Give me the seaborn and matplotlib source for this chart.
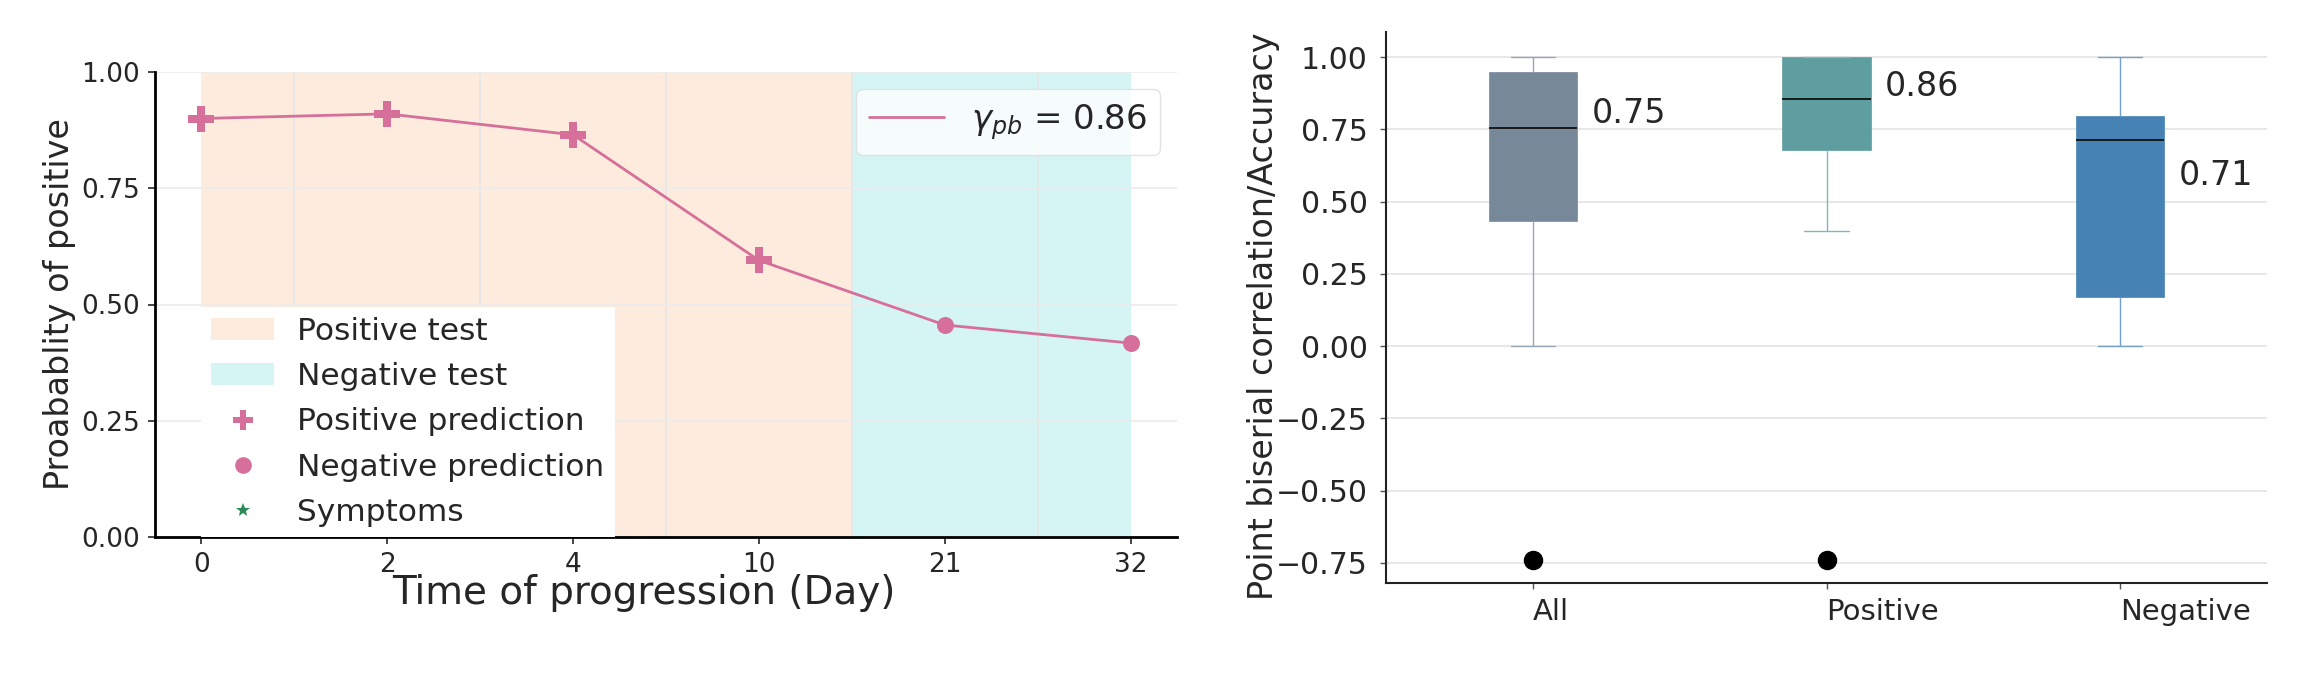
import numpy as np
import pandas as pd
import matplotlib
matplotlib.use("Agg")
import matplotlib.pyplot as plt
import matplotlib.colors as mcolors
from matplotlib.patches import Patch
from matplotlib.lines import Line2D
import seaborn as sns

# ---------------- data ----------------
days = ["0", "2", "4", "10", "21", "32"]
prob_positive = [0.90, 0.91, 0.865, 0.595, 0.456, 0.417]
prediction = ["Positive", "Positive", "Positive", "Positive", "Negative", "Negative"]
test_result = ["Positive", "Positive", "Positive", "Positive", "Negative", "Negative"]
r_pb_label = "0.86"

groups = ["All", "Positive", "Negative"]
whisker_low = [0.0, 0.40, 0.0]
q1 = [0.432, 0.68, 0.171]
median = [0.755, 0.856, 0.712]
q3 = [0.95, 1.0, 0.795]
whisker_high = [1.0, 1.0, 1.0]
outliers = [[-0.74], [-0.74], []]
median_labels = ["0.75", "0.86", "0.71"]

# ---------------- style ----------------
sns.set_style("white")
plt.rcParams["font.family"] = ["DejaVu Sans"]

line_color = "#d6709a"
orange_span = "#fdebdd"
cyan_span = "#d5f4f4"
box_palette = ["#778899", "#5f9ea0", "#4682b4"]

W, H = 2308, 676
fig = plt.figure(figsize=(W / 100, H / 100), dpi=100)
ax1 = fig.add_axes([155 / W, (H - 537) / H, (1177 - 155) / W, (537 - 72) / H])
ax2 = fig.add_axes([1386 / W, (H - 583) / H, (2267 - 1386) / W, (583 - 32) / H])

# ---------------- left panel ----------------
df = pd.DataFrame({"pos": np.arange(len(days)), "day": days,
                   "prob": prob_positive, "prediction": prediction,
                   "test": test_result})

n_pos_test = sum(1 for t in test_result if t == "Positive")
boundary = n_pos_test - 1 + 0.5
ax1.axvspan(0, boundary, color=orange_span, zorder=0, lw=0)
ax1.axvspan(boundary, len(days) - 1, color=cyan_span, zorder=0, lw=0)

sns.lineplot(data=df, x="pos", y="prob", color=line_color, lw=2.0, ax=ax1, zorder=3)
sns.scatterplot(data=df[df["prediction"] == "Positive"], x="pos", y="prob",
                marker="P", color=line_color, s=330, linewidth=0,
                legend=False, ax=ax1, zorder=4)
sns.scatterplot(data=df[df["prediction"] == "Negative"], x="pos", y="prob",
                marker="o", color=line_color, s=150, linewidth=0,
                legend=False, ax=ax1, zorder=4)

ax1.set_xlim(-0.25, 5.25)
ax1.set_ylim(0, 1.0)
ax1.set_xticks(df["pos"])
ax1.set_xticklabels(days)
ax1.set_yticks([0, 0.25, 0.5, 0.75, 1.0])
ax1.set_yticklabels(["0.00", "0.25", "0.50", "0.75", "1.00"])
ax1.set_xticks(np.arange(len(days) - 1) + 0.5, minor=True)
ax1.tick_params(axis="x", which="minor", length=0)
ax1.grid(True, axis="y", which="major", color="#ebebeb", lw=1.2, zorder=0.5)
ax1.grid(True, axis="x", which="minor", color="#e6e6e6", lw=1.2, zorder=0.5)
ax1.set_axisbelow(True)
ax1.tick_params(axis="both", which="major", labelsize=19, length=5, width=1.2,
                direction="out", left=True, bottom=True, pad=6)
for s in ["top", "right"]:
    ax1.spines[s].set_visible(False)
for s in ["left", "bottom"]:
    ax1.spines[s].set_color("black")
    ax1.spines[s].set_linewidth(2.0)

ax1.set_xlabel("Time of progression (Day)", fontsize=28)
ax1.set_ylabel("Proabablity of positive", fontsize=24)
ax1.xaxis.set_label_coords(0.478, -0.08)
ax1.yaxis.set_label_coords(-0.077, 0.5)

legend_handles = [
    Patch(facecolor=orange_span, edgecolor="none", label="Positive test"),
    Patch(facecolor=cyan_span, edgecolor="none", label="Negative test"),
    Line2D([], [], ls="none", marker="P", markersize=15, color=line_color,
           markeredgewidth=0, label="Positive prediction"),
    Line2D([], [], ls="none", marker="o", markersize=12, color=line_color,
           markeredgewidth=0, label="Negative prediction"),
    Line2D([], [], ls="none", marker="*", markersize=10, color="#2e8b57",
           markeredgewidth=0, label="Symptoms"),
]
leg1 = ax1.legend(handles=legend_handles, loc="lower left",
                  bbox_to_anchor=(0.25 / 5.5, 0.0), bbox_transform=ax1.transAxes,
                  fontsize=22.5, frameon=True, fancybox=False, framealpha=1.0,
                  facecolor="white", edgecolor="none", borderaxespad=0.0,
                  borderpad=0.32, labelspacing=0.52, handlelength=2.0,
                  handletextpad=0.75)
leg1.set_zorder(5)
ax1.add_artist(leg1)
leg2 = ax1.legend(handles=[Line2D([], [], color=line_color, lw=2.0,
                                  label=r"$\gamma_{pb}$ = " + r_pb_label)],
                  loc="upper right", fontsize=24.5, frameon=True, fancybox=True,
                  framealpha=0.8, facecolor="white", edgecolor="#dddddd",
                  handlelength=2.2, handletextpad=0.8, borderpad=0.38,
                  borderaxespad=0.5)
leg2.set_zorder(5)

# ---------------- right panel ----------------
rows = []
for g, lo, a, m, b, hi, outs in zip(groups, whisker_low, q1, median, q3,
                                     whisker_high, outliers):
    vals = list(outs) + [lo] * (2 - len(outs)) + [a, a, m, b, b, hi, hi]
    rows += [{"group": g, "value": v} for v in vals]
bdf = pd.DataFrame(rows)

sns.boxplot(data=bdf, x="group", y="value", hue="group", order=groups,
            hue_order=groups, palette=box_palette, width=0.3, linewidth=1.0,
            fliersize=13, legend=False, ax=ax2,
            flierprops=dict(marker="o", markerfacecolor="black",
                            markeredgecolor="black"),
            medianprops=dict(color="#111111", linewidth=1.3))

for patch, c in zip(ax2.patches, box_palette):
    patch.set_facecolor(c)
    patch.set_edgecolor(c)
    patch.set_linewidth(0.5)

def lighten(c, f):
    r, g, b = mcolors.to_rgb(c)
    return (r + (1 - r) * f, g + (1 - g) * f, b + (1 - b) * f)

for line in ax2.lines:
    xd = np.asarray(line.get_xdata(), dtype=float)
    yd = np.asarray(line.get_ydata(), dtype=float)
    if len(xd) != 2:
        continue
    idx = int(round(xd.mean()))
    if idx < 0 or idx > 2:
        continue
    is_median = (yd[0] == yd[1]) and abs(yd[0] - median[idx]) < 1e-9 and abs(xd[1] - xd[0]) > 0.2
    if is_median:
        continue
    line.set_color(lighten(box_palette[idx], 0.25))
    line.set_linewidth(1.0)

for i, lab in enumerate(median_labels):
    ypos = [0.805, 0.90, 0.59][i]
    ax2.text(i + 0.2, ypos, lab, fontsize=24, ha="left", va="center")

ax2.set_xlim(-0.5, 2.5)
ax2.set_ylim(-0.82, 1.0875)
ax2.set_yticks([-0.75, -0.5, -0.25, 0, 0.25, 0.5, 0.75, 1.0])
ax2.set_yticklabels(["\u22120.75", "\u22120.50", "\u22120.25", "0.00",
                     "0.25", "0.50", "0.75", "1.00"])
ax2.grid(True, axis="y", color="#e8e8e8", lw=1.5)
ax2.set_axisbelow(True)
ax2.tick_params(axis="y", labelsize=21.5, length=4, width=1.0, direction="out",
                left=True, color="#555555", pad=9)
ax2.tick_params(axis="x", labelsize=21, length=4, width=1.0, direction="out",
                bottom=True, color="#555555", pad=7)
for lbl in ax2.get_xticklabels():
    lbl.set_ha("left")
for s in ["top", "right"]:
    ax2.spines[s].set_visible(False)
for s in ["left", "bottom"]:
    ax2.spines[s].set_color("#222222")
    ax2.spines[s].set_linewidth(1.5)
ax2.set_xlabel("")
ax2.set_ylabel("Point biserial correlation/Accuracy", fontsize=24)
ax2.yaxis.set_label_coords(-0.12, 0.485)

fig.savefig("out.png", dpi=100)
